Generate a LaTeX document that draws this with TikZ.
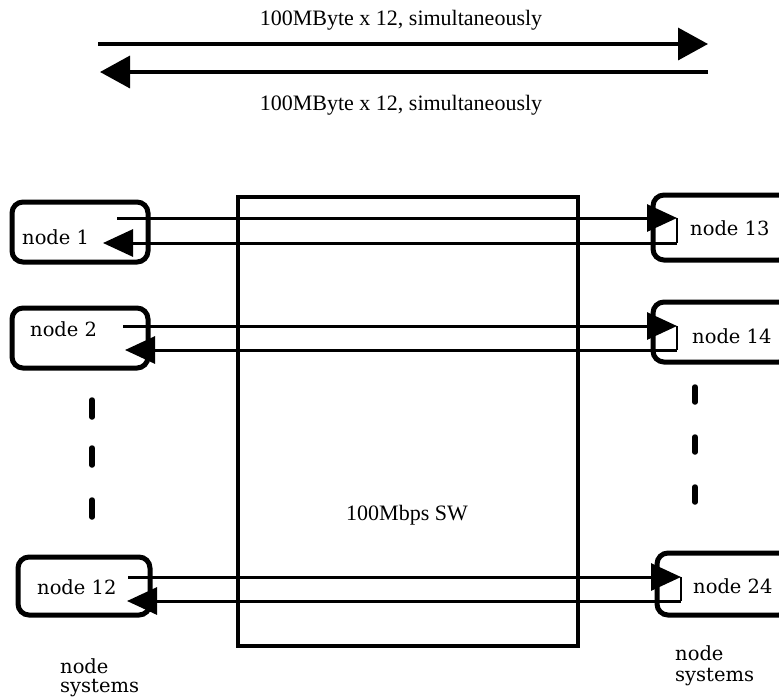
\documentclass[tikz,border=0pt]{standalone}
\usepackage{fontspec}
\setmainfont{Liberation Serif}
\newfontfamily\nodefont{DejaVu Serif}
\usetikzlibrary{arrows.meta}
\begin{document}
\begin{tikzpicture}[x=1pt,y=-1pt,
  nodebox/.style={draw, line width=5pt, rounded corners=11pt, inner sep=0pt, minimum height=60pt},
  lbl/.style={font=\nodefont\fontsize{19.5}{22}\selectfont, inner sep=0pt, anchor=base west},
  toplbl/.style={font=\fontsize{22}{26}\selectfont, inner sep=0pt, anchor=base},
  conn/.style={line width=3pt, -{Triangle[length=30pt,width=27pt]}},
  back/.style={line width=2.5pt},
  bigarrow/.style={line width=3.5pt, -{Triangle[length=30pt,width=32pt]}},
  dotmark/.style={line width=5.5pt, line cap=round}]
\useasboundingbox (0,0) rectangle (779,697);

% top arrows
\coordinate (ta1) at (98,44);  \coordinate (ta2) at (708,44);
\coordinate (tb1) at (708,72); \coordinate (tb2) at (100,72);
\draw[bigarrow] (ta1) -- (ta2);
\draw[bigarrow] (tb1) -- (tb2);
\node[toplbl] (lab1) at (401,25) {100MByte x 12, simultaneously};
\node[toplbl] (lab2) at (401,110) {100MByte x 12, simultaneously};

% switch
\node[draw, line width=4.5pt, minimum width=340pt, minimum height=449pt, inner sep=0pt] (sw) at (408,421.5) {};
\node[font=\fontsize{22}{26}\selectfont, inner sep=0pt] (swl) at (407,515) {100Mbps SW};

% left boxes
\node[nodebox, minimum width=136pt] (n1) at (80,232) {};
\node[lbl] (t1) at (22,244) {node 1};
\node[nodebox, minimum width=136pt] (n2) at (80,338) {};
\node[lbl] (t2) at (30,336) {node 2};
\node[nodebox, minimum width=132pt, minimum height=58pt] (n12) at (84,586) {};
\node[lbl] (t12) at (37,594) {node 12};

% right boxes
\node[nodebox, minimum width=137pt, minimum height=65pt] (n13) at (721.5,227.5) {};
\node[lbl] (t13) at (690,235) {node 13};
\node[nodebox, minimum width=137pt] (n14) at (721.5,332) {};
\node[lbl] (t14) at (692,343) {node 14};
\node[nodebox, minimum width=133pt, minimum height=62pt] (n24) at (723.5,584) {};
\node[lbl] (t24) at (693,593) {node 24};

% row 1
\coordinate (s1) at (117,218); \coordinate (r1) at (677,218);
\coordinate (r1b) at (677,243); \coordinate (e1) at (103,243);
\draw[conn] (s1) -- (r1);
\draw[back] (r1) -- (r1b);
\draw[conn] (r1b) -- (e1);

% row 2
\coordinate (s2) at (123,326); \coordinate (r2) at (677,326);
\coordinate (r2b) at (677,350); \coordinate (e2) at (125,350);
\draw[conn] (s2) -- (r2);
\draw[back] (r2) -- (r2b);
\draw[conn] (r2b) -- (e2);

% row 12
\coordinate (s12) at (128,577); \coordinate (r12) at (681,577);
\coordinate (r12b) at (681,601); \coordinate (e12) at (127,601);
\draw[conn] (s12) -- (r12);
\draw[back] (r12) -- (r12b);
\draw[conn] (r12b) -- (e12);

% dots
\foreach \a/\b [count=\i] in {400/417,448/465,500/517}
  \draw[dotmark] (92,\a) coordinate (ld\i) -- (92,\b);
\foreach \a/\b [count=\i] in {387/402,437/452,487/502}
  \draw[dotmark] (695,\a) coordinate (rd\i) -- (695,\b);

% captions
\node[lbl] (cl1) at (60,673) {node};
\node[lbl] (cl2) at (60,692) {systems};
\node[lbl] (cr1) at (675,660) {node};
\node[lbl] (cr2) at (675,681) {systems};
\end{tikzpicture}
\end{document}
